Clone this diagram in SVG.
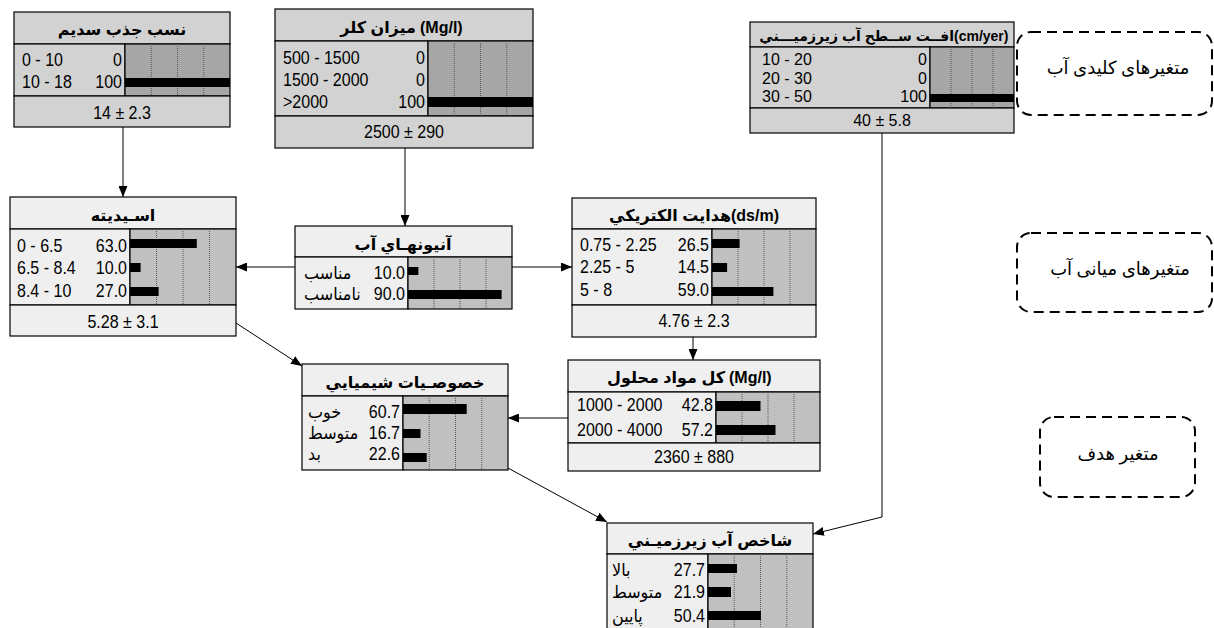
<svg xmlns="http://www.w3.org/2000/svg" width="1214" height="628" viewBox="0 0 1214 628">
<style>
.ev{fill:#d2d2d2;stroke:#000;stroke-width:1.2}
.evb{fill:#a6a6a6;stroke:#000;stroke-width:1.2}
.nm{fill:#efefef;stroke:#000;stroke-width:1.2}
.nmb{fill:#c0c0c0;stroke:#000;stroke-width:1.2}
.grid{stroke:#555;stroke-width:1;stroke-dasharray:1 1}
.bar{fill:#000}
.t{font-family:"Liberation Sans","DejaVu Sans",sans-serif;font-size:17.5px;fill:#000}
.s{font-size:16px}
.ttl{font-size:16px;font-weight:bold;text-anchor:middle}
.c{text-anchor:middle}
.e{text-anchor:end}
.st{text-anchor:start}
.conn{stroke:#000;stroke-width:1;fill:none;marker-end:url(#arr)}
.leg{fill:#fff;stroke:#000;stroke-width:2;stroke-dasharray:10 6}
.lt{font-family:"Liberation Serif","DejaVu Serif","DejaVu Sans",serif;font-size:18px;text-anchor:middle;fill:#000}
</style>
<defs>
<marker id="arr" markerUnits="userSpaceOnUse" markerWidth="11" markerHeight="9" refX="11" refY="4.5" orient="auto">
<path d="M0,0 L11,4.5 L0,9 z" fill="#000"/>
</marker>
</defs>
<rect x="0" y="0" width="1214" height="628" fill="#fff"/>

<g id="legend-key">
<rect class="leg" x="1017" y="32" width="195" height="83" rx="14"/>
<text class="lt" x="1118" y="74">متغیرهای کلیدی آب</text>
</g>
<g id="legend-mid">
<rect class="leg" x="1017" y="233" width="195" height="79" rx="14"/>
<text class="lt" x="1120" y="275">متغیرهای میانی آب</text>
</g>
<g id="legend-target">
<rect class="leg" x="1040" y="417" width="155" height="80" rx="14"/>
<text class="lt" x="1118" y="460">متغیر هدف</text>
</g>

<g id="connectors">
<line class="conn" x1="123" y1="127" x2="123" y2="197"/>
<line class="conn" x1="405" y1="148" x2="405" y2="226"/>
<line class="conn" x1="295" y1="267" x2="236" y2="267"/>
<line class="conn" x1="512" y1="267" x2="572" y2="267"/>
<line class="conn" x1="693" y1="337" x2="693" y2="360"/>
<line class="conn" x1="568" y1="418" x2="508" y2="418"/>
<line class="conn" x1="236" y1="323" x2="302" y2="366"/>
<line class="conn" x1="508" y1="468" x2="607" y2="522"/>
<polyline class="conn" points="882,133 882,517 813,534"/>
</g>

<g id="node-sar">
<rect class="ev" x="14" y="12" width="216" height="32"/>
<rect class="ev" x="14" y="44" width="111" height="52"/>
<rect class="evb" x="125" y="44" width="105" height="52"/>
<line class="grid" x1="151.25" y1="44" x2="151.25" y2="96"/>
<line class="grid" x1="177.5" y1="44" x2="177.5" y2="96"/>
<line class="grid" x1="203.75" y1="44" x2="203.75" y2="96"/>
<rect class="ev" x="14" y="96" width="216" height="31"/>
<text class="t ttl" x="122" y="35">نسب جذب سديم</text>
<text class="t" transform="translate(22 66) scale(.915 1)">0 - 10</text>
<text class="t e" transform="translate(122 66) scale(.915 1)">0</text>
<text class="t" transform="translate(22 88) scale(.915 1)">10 - 18</text>
<text class="t e" transform="translate(122 88) scale(.915 1)">100</text>
<rect class="bar" x="125" y="78" width="105" height="9"/>
<text class="t c" transform="translate(122 119) scale(.915 1)">14 ± 2.3</text>
</g>

<g id="node-cl">
<rect class="ev" x="275" y="9" width="258" height="32"/>
<rect class="ev" x="275" y="41" width="153" height="75"/>
<rect class="evb" x="428" y="41" width="105" height="75"/>
<line class="grid" x1="454.25" y1="41" x2="454.25" y2="116"/>
<line class="grid" x1="480.5" y1="41" x2="480.5" y2="116"/>
<line class="grid" x1="506.75" y1="41" x2="506.75" y2="116"/>
<rect class="ev" x="275" y="116" width="258" height="32"/>
<text class="t ttl e" x="416" y="33">ميزان كلر</text>
<text class="t ttl st" x="420" y="33">(Mg/l)</text>
<text class="t" transform="translate(283 64) scale(.915 1)">500 - 1500</text>
<text class="t e" transform="translate(425 64) scale(.915 1)">0</text>
<text class="t" transform="translate(283 86) scale(.915 1)">1500 - 2000</text>
<text class="t e" transform="translate(425 86) scale(.915 1)">0</text>
<text class="t" transform="translate(283 108) scale(.915 1)">&gt;2000</text>
<text class="t e" transform="translate(425 108) scale(.915 1)">100</text>
<rect class="bar" x="428" y="97" width="105" height="10"/>
<text class="t c" transform="translate(404 138) scale(.915 1)">2500 ± 290</text>
</g>

<g id="node-drop">
<rect class="ev" x="750" y="22" width="264" height="25"/>
<rect class="ev" x="750" y="47" width="180" height="61"/>
<rect class="evb" x="930" y="47" width="84" height="61"/>
<line class="grid" x1="951" y1="47" x2="951" y2="108"/>
<line class="grid" x1="972" y1="47" x2="972" y2="108"/>
<line class="grid" x1="993" y1="47" x2="993" y2="108"/>
<rect class="ev" x="750" y="108" width="264" height="25"/>
<text class="t ttl e" x="954" y="41" style="font-size:14px">افــت ســطح آب زيرزميـــني</text>
<text class="t ttl st" x="954" y="41" style="font-size:14px">(cm/yer)</text>
<text class="t s" x="762" y="65">10 - 20</text>
<text class="t s e" x="927" y="65">0</text>
<text class="t s" x="762" y="84">20 - 30</text>
<text class="t s e" x="927" y="84">0</text>
<text class="t s" x="762" y="102">30 - 50</text>
<text class="t s e" x="927" y="102">100</text>
<rect class="bar" x="930" y="94" width="84" height="8"/>
<text class="t c" x="882" y="126" style="font-size:16px">40 ± 5.8</text>
</g>

<g id="node-ph">
<rect class="nm" x="10" y="197" width="226" height="32"/>
<rect class="nm" x="10" y="229" width="120" height="76"/>
<rect class="nmb" x="130" y="229" width="106" height="76"/>
<line class="grid" x1="156.5" y1="229" x2="156.5" y2="305"/>
<line class="grid" x1="183" y1="229" x2="183" y2="305"/>
<line class="grid" x1="209.5" y1="229" x2="209.5" y2="305"/>
<rect class="nm" x="10" y="305" width="226" height="31"/>
<text class="t ttl" x="123" y="221">اسـيديته</text>
<text class="t" transform="translate(17 252) scale(.915 1)">0 - 6.5</text>
<text class="t e" transform="translate(127 252) scale(.915 1)">63.0</text>
<rect class="bar" x="130" y="239" width="66.8" height="9"/>
<text class="t" transform="translate(17 274) scale(.915 1)">6.5 - 8.4</text>
<text class="t e" transform="translate(127 274) scale(.915 1)">10.0</text>
<rect class="bar" x="130" y="263" width="10.6" height="9"/>
<text class="t" transform="translate(17 297) scale(.915 1)">8.4 - 10</text>
<text class="t e" transform="translate(127 297) scale(.915 1)">27.0</text>
<rect class="bar" x="130" y="287" width="28.6" height="9"/>
<text class="t c" transform="translate(123 328) scale(.915 1)">5.28 ± 3.1</text>
</g>

<g id="node-anion">
<rect class="nm" x="295" y="226" width="217" height="31"/>
<rect class="nm" x="295" y="257" width="113" height="52"/>
<rect class="nmb" x="408" y="257" width="104" height="52"/>
<line class="grid" x1="434" y1="257" x2="434" y2="309"/>
<line class="grid" x1="460" y1="257" x2="460" y2="309"/>
<line class="grid" x1="486" y1="257" x2="486" y2="309"/>
<text class="t ttl" x="403" y="250">آنيونهـاي آب</text>
<text class="t" transform="translate(304 279) scale(.915 1)">مناسب</text>
<text class="t e" transform="translate(405 279) scale(.915 1)">10.0</text>
<rect class="bar" x="408" y="267" width="10.4" height="8"/>
<text class="t" transform="translate(304 300) scale(.915 1)">نامناسب</text>
<text class="t e" transform="translate(405 300) scale(.915 1)">90.0</text>
<rect class="bar" x="408" y="290" width="93.6" height="9"/>
</g>

<g id="node-ec">
<rect class="nm" x="572" y="198" width="244" height="31"/>
<rect class="nm" x="572" y="229" width="140" height="76"/>
<rect class="nmb" x="712" y="229" width="104" height="76"/>
<line class="grid" x1="738" y1="229" x2="738" y2="305"/>
<line class="grid" x1="764" y1="229" x2="764" y2="305"/>
<line class="grid" x1="790" y1="229" x2="790" y2="305"/>
<rect class="nm" x="572" y="305" width="244" height="32"/>
<text class="t ttl e" x="731" y="221">هدايت الكتريكي</text>
<text class="t ttl st" x="731" y="221">(ds/m)</text>
<text class="t" transform="translate(580 251) scale(.915 1)">0.75 - 2.25</text>
<text class="t e" transform="translate(709 251) scale(.915 1)">26.5</text>
<rect class="bar" x="712" y="239" width="27.6" height="9"/>
<text class="t" transform="translate(580 273) scale(.915 1)">2.25 - 5</text>
<text class="t e" transform="translate(709 273) scale(.915 1)">14.5</text>
<rect class="bar" x="712" y="263" width="15.1" height="9"/>
<text class="t" transform="translate(580 296) scale(.915 1)">5 - 8</text>
<text class="t e" transform="translate(709 296) scale(.915 1)">59.0</text>
<rect class="bar" x="712" y="287" width="61.4" height="9"/>
<text class="t c" transform="translate(694 327) scale(.915 1)">4.76 ± 2.3</text>
</g>

<g id="node-tds">
<rect class="nm" x="568" y="360" width="252" height="32"/>
<rect class="nm" x="568" y="392" width="148" height="51"/>
<rect class="nmb" x="716" y="392" width="104" height="51"/>
<line class="grid" x1="742" y1="392" x2="742" y2="443"/>
<line class="grid" x1="768" y1="392" x2="768" y2="443"/>
<line class="grid" x1="794" y1="392" x2="794" y2="443"/>
<rect class="nm" x="568" y="443" width="252" height="28"/>
<text class="t ttl e" x="725" y="383">كل مواد محلول</text>
<text class="t ttl st" x="729" y="383">(Mg/l)</text>
<text class="t" transform="translate(577 411) scale(.915 1)">1000 - 2000</text>
<text class="t e" transform="translate(713 411) scale(.915 1)">42.8</text>
<rect class="bar" x="716" y="401" width="44.5" height="10"/>
<text class="t" transform="translate(577 436) scale(.915 1)">2000 - 4000</text>
<text class="t e" transform="translate(713 436) scale(.915 1)">57.2</text>
<rect class="bar" x="716" y="425" width="59.5" height="10"/>
<text class="t c" transform="translate(694 463) scale(.915 1)">2360 ± 880</text>
</g>

<g id="node-chem">
<rect class="nm" x="302" y="364" width="206" height="32"/>
<rect class="nm" x="302" y="396" width="101" height="74"/>
<rect class="nmb" x="403" y="396" width="105" height="74"/>
<line class="grid" x1="429.25" y1="396" x2="429.25" y2="470"/>
<line class="grid" x1="455.5" y1="396" x2="455.5" y2="470"/>
<line class="grid" x1="481.75" y1="396" x2="481.75" y2="470"/>
<text class="t ttl" x="405" y="388">خصوصـيات شيميايي</text>
<text class="t" transform="translate(308 418) scale(.915 1)">خوب</text>
<text class="t e" transform="translate(400 418) scale(.915 1)">60.7</text>
<rect class="bar" x="403" y="404" width="63.7" height="10"/>
<text class="t" transform="translate(308 439) scale(.915 1)">متوسط</text>
<text class="t e" transform="translate(400 439) scale(.915 1)">16.7</text>
<rect class="bar" x="403" y="429" width="17.5" height="9"/>
<text class="t" transform="translate(308 460) scale(.915 1)">بد</text>
<text class="t e" transform="translate(400 460) scale(.915 1)">22.6</text>
<rect class="bar" x="403" y="453" width="23.7" height="9"/>
</g>

<g id="node-gwi">
<rect class="nm" x="607" y="523" width="206" height="31"/>
<rect class="nm" x="607" y="554" width="101" height="86"/>
<rect class="nmb" x="708" y="554" width="105" height="86"/>
<line class="grid" x1="734.25" y1="554" x2="734.25" y2="640"/>
<line class="grid" x1="760.5" y1="554" x2="760.5" y2="640"/>
<line class="grid" x1="786.75" y1="554" x2="786.75" y2="640"/>
<text class="t ttl" x="710" y="546">شاخص آب زيرزميـني</text>
<text class="t" transform="translate(612 576) scale(.915 1)">بالا</text>
<text class="t e" transform="translate(705 576) scale(.915 1)">27.7</text>
<rect class="bar" x="708" y="564" width="29" height="9"/>
<text class="t" transform="translate(612 598) scale(.915 1)">متوسط</text>
<text class="t e" transform="translate(705 598) scale(.915 1)">21.9</text>
<rect class="bar" x="708" y="587" width="23" height="10"/>
<text class="t" transform="translate(612 622) scale(.915 1)">پايين</text>
<text class="t e" transform="translate(705 622) scale(.915 1)">50.4</text>
<rect class="bar" x="708" y="611" width="52.9" height="9"/>
</g>
</svg>
